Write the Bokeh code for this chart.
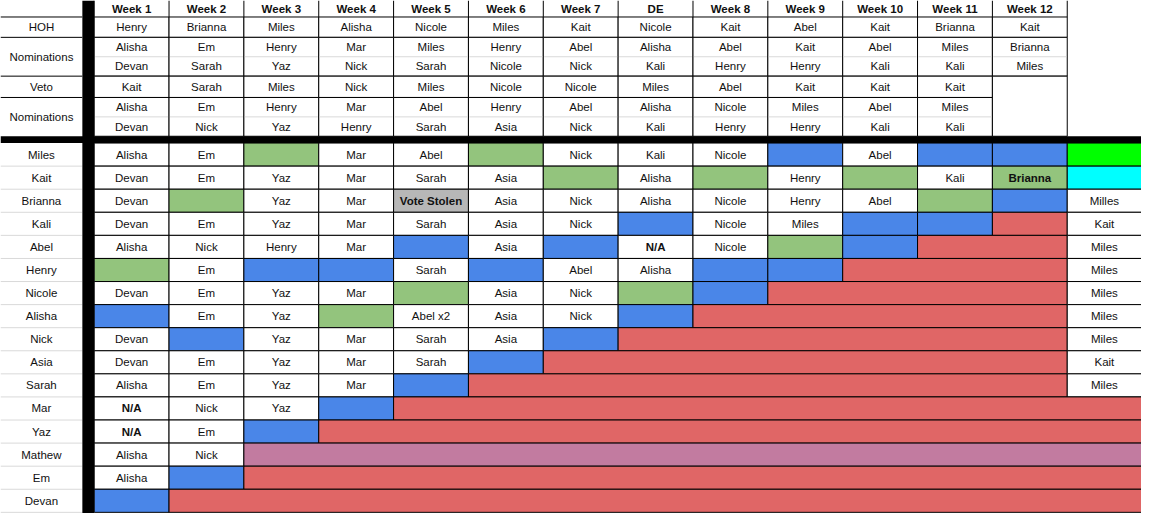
from bokeh.plotting import figure
from bokeh.models import Range1d
from bokeh.core.properties import value
from bokeh.embed import file_html
from bokeh.resources import INLINE

# ---------------- data ----------------
weeks = ["Week 1", "Week 2", "Week 3", "Week 4", "Week 5", "Week 6", "Week 7",
         "DE", "Week 8", "Week 9", "Week 10", "Week 11", "Week 12"]
hoh = ["Henry", "Brianna", "Miles", "Alisha", "Nicole", "Miles", "Kait",
       "Nicole", "Kait", "Abel", "Kait", "Brianna", "Kait"]
nom1_a = ["Alisha", "Em", "Henry", "Mar", "Miles", "Henry", "Abel",
          "Alisha", "Abel", "Kait", "Abel", "Miles", "Brianna"]
nom1_b = ["Devan", "Sarah", "Yaz", "Nick", "Sarah", "Nicole", "Nick",
          "Kali", "Henry", "Henry", "Kali", "Kali", "Miles"]
veto = ["Kait", "Sarah", "Miles", "Nick", "Miles", "Nicole", "Nicole",
        "Miles", "Abel", "Kait", "Kait", "Kait"]
nom2_a = ["Alisha", "Em", "Henry", "Mar", "Abel", "Henry", "Abel",
          "Alisha", "Nicole", "Miles", "Abel", "Miles"]
nom2_b = ["Devan", "Nick", "Yaz", "Henry", "Sarah", "Asia", "Nick",
          "Kali", "Henry", "Henry", "Kali", "Kali"]
header_labels = ["HOH", "Nominations", "Veto", "Nominations"]

houseguests = ["Miles", "Kait", "Brianna", "Kali", "Abel", "Henry", "Nicole", "Alisha",
               "Nick", "Asia", "Sarah", "Mar", "Yaz", "Mathew", "Em", "Devan"]

# codes: "+" green, "-" blue, "x" evicted (red), "m" purple, "W" winner, "RU" runner-up,
# "text|code" = bold text on coloured cell
votes_miles = ["Alisha", "Em", "+", "Mar", "Abel", "+", "Nick", "Kali", "Nicole", "-", "Abel", "-", "-", "W"]
votes_kait = ["Devan", "Em", "Yaz", "Mar", "Sarah", "Asia", "+", "Alisha", "+", "Henry", "+", "Kali", "Brianna|+", "RU"]
votes_brianna = ["Devan", "+", "Yaz", "Mar", "Vote Stolen|s", "Asia", "Nick", "Alisha", "Nicole", "Henry", "Abel", "+", "-", "Milles"]
votes_kali = ["Devan", "Em", "Yaz", "Mar", "Sarah", "Asia", "Nick", "-", "Nicole", "Miles", "-", "-", "x", "Kait"]
votes_abel = ["Alisha", "Nick", "Henry", "Mar", "-", "Asia", "-", "N/A", "Nicole", "+", "-", "x", "x", "Miles"]
votes_henry = ["+", "Em", "-", "-", "Sarah", "-", "Abel", "Alisha", "-", "-", "x", "x", "x", "Miles"]
votes_nicole = ["Devan", "Em", "Yaz", "Mar", "+", "Asia", "Nick", "+", "-", "x", "x", "x", "x", "Miles"]
votes_alisha = ["-", "Em", "Yaz", "+", "Abel x2", "Asia", "Nick", "-", "x", "x", "x", "x", "x", "Miles"]
votes_nick = ["Devan", "-", "Yaz", "Mar", "Sarah", "Asia", "-", "x", "x", "x", "x", "x", "x", "Miles"]
votes_asia = ["Devan", "Em", "Yaz", "Mar", "Sarah", "-", "x", "x", "x", "x", "x", "x", "x", "Kait"]
votes_sarah = ["Alisha", "Em", "Yaz", "Mar", "-", "x", "x", "x", "x", "x", "x", "x", "x", "Miles"]
votes_mar = ["N/A", "Nick", "Yaz", "-", "x", "x", "x", "x", "x", "x", "x", "x", "x", "x"]
votes_yaz = ["N/A", "Em", "-", "x", "x", "x", "x", "x", "x", "x", "x", "x", "x", "x"]
votes_mathew = ["Alisha", "Nick", "m", "m", "m", "m", "m", "m", "m", "m", "m", "m", "m", "m"]
votes_em = ["Alisha", "-", "x", "x", "x", "x", "x", "x", "x", "x", "x", "x", "x", "x"]
votes_devan = ["-", "x", "x", "x", "x", "x", "x", "x", "x", "x", "x", "x", "x", "x"]

vote_rows = [votes_miles, votes_kait, votes_brianna, votes_kali, votes_abel, votes_henry,
             votes_nicole, votes_alisha, votes_nick, votes_asia, votes_sarah, votes_mar,
             votes_yaz, votes_mathew, votes_em, votes_devan]

FILL = {"+": "#93c47d", "-": "#4a86e8", "x": "#e06666", "m": "#c27ba0",
        "W": "#00ff00", "RU": "#00ffff", "s": "#b7b7b7"}
BOLD_WORDS = {"N/A"}

# ---------------- layout ----------------
TW, TH = 1157, 529
LABEL_W = 83
BAR_R = 95
COL_W = 75.9
x_edges = [BAR_R + i * COL_W for i in range(14)] + [TW]
head_edges = [0, 17, 38, 58, 78, 100, 120, 140]
BODY_TOP = 147
ROW_H = 23.8

FONT = value("Liberation Sans")
FS = "11.5px"
TXT = "#111111"

p = figure(width=1141, height=513, output_backend="svg", toolbar_location=None,
           x_range=Range1d(0, TW), y_range=Range1d(TH, 0), min_border=0)
p.axis.visible = False
p.grid.visible = False
p.outline_line_color = None
p.background_fill_color = "white"
p.border_fill_color = "white"

q = dict(left=[], right=[], top=[], bottom=[], fill=[])
tn = dict(x=[], y=[], text=[])
tb = dict(x=[], y=[], text=[])
gray = dict(x0=[], y0=[], x1=[], y1=[])
blk = dict(x0=[], y0=[], x1=[], y1=[])


def cell(l, r, t, b, fill="white"):
    q["left"].append(l); q["right"].append(r); q["top"].append(t); q["bottom"].append(b)
    q["fill"].append(fill)


def put(x, y, s, bold=False):
    d = tb if bold else tn
    d["x"].append(x); d["y"].append(y); d["text"].append(s)


def mid(a, b):
    return (a + b) / 2

# week header row
for i, w in enumerate(weeks):
    put(mid(x_edges[i], x_edges[i + 1]), mid(head_edges[0], head_edges[1]), w, bold=True)
for i in range(14):
    blk["x0"].append(x_edges[i]); blk["x1"].append(x_edges[i])
    blk["y0"].append(head_edges[0]); blk["y1"].append(head_edges[1])

# header rows per week
for i in range(len(weeks)):
    l, r = x_edges[i], x_edges[i + 1]
    cx = mid(l, r)
    cell(l, r, head_edges[1], head_edges[2])
    put(cx, mid(head_edges[1], head_edges[2]), hoh[i])
    cell(l, r, head_edges[2], head_edges[4])
    put(cx, mid(head_edges[2], head_edges[3]), nom1_a[i])
    put(cx, mid(head_edges[3], head_edges[4]), nom1_b[i])
    gray["x0"].append(l + 1); gray["x1"].append(r - 1)
    gray["y0"].append(head_edges[3]); gray["y1"].append(head_edges[3])
    if i < len(veto):
        cell(l, r, head_edges[4], head_edges[5])
        put(cx, mid(head_edges[4], head_edges[5]), veto[i])
        cell(l, r, head_edges[5], head_edges[7])
        put(cx, mid(head_edges[5], head_edges[6]), nom2_a[i])
        put(cx, mid(head_edges[6], head_edges[7]), nom2_b[i])
        gray["x0"].append(l + 1); gray["x1"].append(r - 1)
        gray["y0"].append(head_edges[6]); gray["y1"].append(head_edges[6])
    else:
        cell(l, r, head_edges[4], head_edges[7])

# label column header
label_spans = [(head_edges[1], head_edges[2]), (head_edges[2], head_edges[4]),
               (head_edges[4], head_edges[5]), (head_edges[5], head_edges[7])]
for lab, (a, b) in zip(header_labels, label_spans):
    put(LABEL_W / 2, mid(a, b), lab)
for yy in [head_edges[1], head_edges[2], head_edges[4], head_edges[5]]:
    blk["x0"].append(0); blk["x1"].append(LABEL_W)
    blk["y0"].append(yy); blk["y1"].append(yy)

# body
for k, (name, row) in enumerate(zip(houseguests, vote_rows)):
    t = BODY_TOP + k * ROW_H
    b = t + ROW_H
    cy = mid(t, b)
    put(LABEL_W / 2, cy, name)
    gray["x0"].append(0); gray["x1"].append(LABEL_W)
    gray["y0"].append(b); gray["y1"].append(b)
    j = 0
    while j < len(row):
        c = row[j]
        if c in ("x", "m"):
            e = j
            while e + 1 < len(row) and row[e + 1] == c:
                e += 1
            cell(x_edges[j], x_edges[e + 1], t, b, FILL[c])
            j = e + 1
            continue
        l, r = x_edges[j], x_edges[j + 1]
        if "|" in c:
            s, code = c.split("|")
            cell(l, r, t, b, FILL[code])
            put(mid(l, r), cy, s, bold=True)
        elif c in FILL:
            cell(l, r, t, b, FILL[c])
        else:
            cell(l, r, t, b)
            put(mid(l, r), cy, c, bold=c in BOLD_WORDS)
        j += 1

p.quad(left=q["left"], right=q["right"], top=q["top"], bottom=q["bottom"],
       fill_color=q["fill"], line_color="#000000", line_width=1)
p.segment(x0=gray["x0"], y0=gray["y0"], x1=gray["x1"], y1=gray["y1"],
          line_color="#d9d9d9", line_width=1)
p.segment(x0=blk["x0"], y0=blk["y0"], x1=blk["x1"], y1=blk["y1"],
          line_color="#000000", line_width=1)
# thick separators
p.quad(left=[LABEL_W, 0], right=[BAR_R, TW], top=[0, head_edges[7]], bottom=[TH, BODY_TOP],
       fill_color="#000000", line_color=None)

p.text(x=tn["x"], y=tn["y"], text=tn["text"], text_font=FONT, text_font_size=FS,
       text_align="center", text_baseline="middle", text_color=TXT)
p.text(x=tb["x"], y=tb["y"], text=tb["text"], text_font=FONT, text_font_size=FS,
       text_font_style="bold", text_align="center", text_baseline="middle", text_color=TXT)

open("out.html", "w").write(file_html(p, INLINE))
